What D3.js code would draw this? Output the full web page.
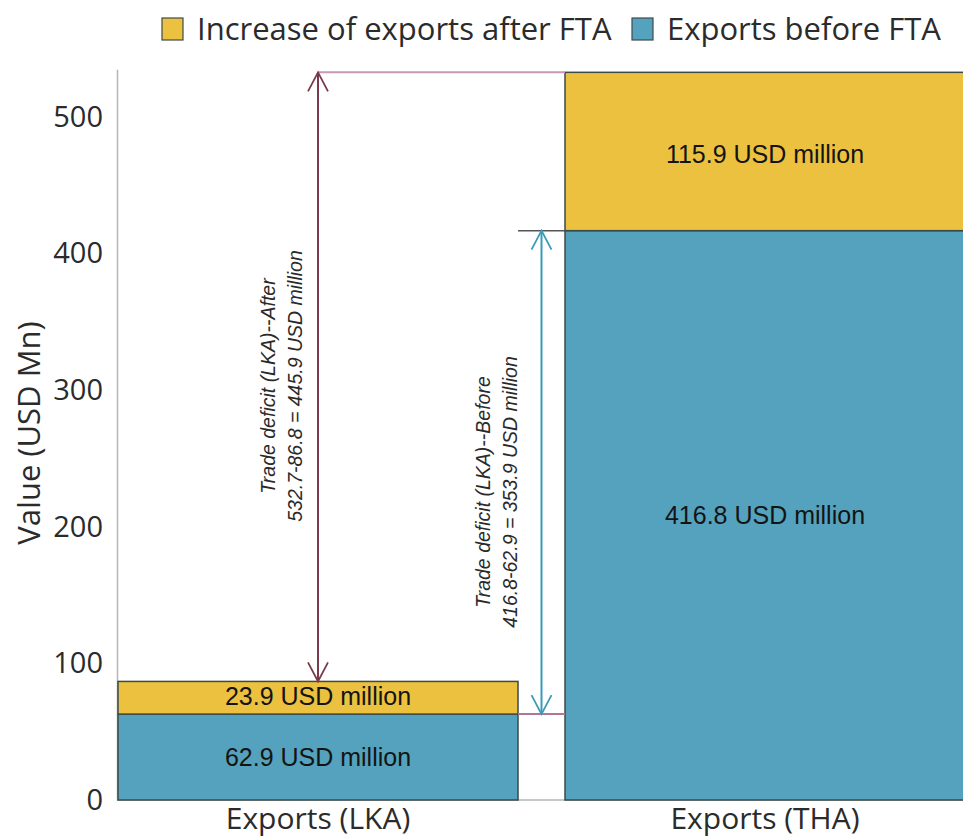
<!DOCTYPE html>
<html>
<head>
<meta charset="utf-8">
<script src="https://cdn.jsdelivr.net/npm/d3@7"></script>
<style>
  html, body { margin: 0; padding: 0; background: #fff; }
  svg { display: block; }
</style>
</head>
<body>
<svg id="chart" width="963" height="838"></svg>
<script>
// ---- data ----
const categories = ["Exports (LKA)", "Exports (THA)"];
const seriesNames = ["Increase of exports after FTA", "Exports before FTA"];
const beforeValues = [62.9, 416.8];
const increaseValues = [23.9, 115.9];
const yTicks = [0, 100, 200, 300, 400, 500];
const yAxisTitle = "Value (USD Mn)";
const unitLabel = "USD million";

// ---- styles ----
const colors = { increase: "#EBC13F", before: "#54A2BD" };
const uiFont = "'Open Sans', 'Noto Sans', sans-serif";
const labelFont = "'Liberation Sans', Arial, sans-serif";

const svg = d3.select("#chart");

const y = d3.scaleLinear().domain([0, 535]).range([800, 800 - 535 * 1.366]);
const x = d3.scaleBand().domain(categories).range([118, 965]).paddingInner(47 / 447).paddingOuter(0);

const totals = beforeValues.map((v, i) => +(v + increaseValues[i]).toFixed(1));

// ---- y axis ----
const yAxis = svg.append("g").attr("transform", "translate(117,0)")
  .call(d3.axisLeft(y).tickValues(yTicks).tickSize(0).tickPadding(14).tickFormat(d3.format("d")));
yAxis.select(".domain").attr("stroke", "#b5b5b5").attr("stroke-width", 1.5);
yAxis.selectAll("text").attr("font-family", uiFont).attr("font-size", 29).attr("fill", "#2b2b2b");

svg.append("text")
  .attr("transform", `translate(40,433) rotate(-90)`)
  .attr("text-anchor", "middle")
  .attr("font-family", uiFont).attr("font-size", 31).attr("fill", "#2b2b2b")
  .text(yAxisTitle);

// ---- x baseline ----
svg.append("line").attr("x1", 117).attr("x2", 963).attr("y1", y(0)).attr("y2", y(0))
  .attr("stroke", "#b5b5b5").attr("stroke-width", 1.5);

// ---- bars ----
const barStroke = "#3b4a4a";
const gBars = svg.append("g");
gBars.selectAll("rect.before").data(categories).join("rect")
  .attr("class", "before")
  .attr("x", d => x(d)).attr("width", x.bandwidth())
  .attr("y", (d, i) => y(beforeValues[i])).attr("height", (d, i) => y(0) - y(beforeValues[i]))
  .attr("fill", colors.before).attr("stroke", barStroke).attr("stroke-width", 1.5);
gBars.selectAll("rect.inc").data(categories).join("rect")
  .attr("class", "inc")
  .attr("x", d => x(d)).attr("width", x.bandwidth())
  .attr("y", (d, i) => y(totals[i])).attr("height", (d, i) => y(beforeValues[i]) - y(totals[i]))
  .attr("fill", colors.increase).attr("stroke", barStroke).attr("stroke-width", 1.5);

// bar value labels
const lbl = svg.append("g").attr("font-family", labelFont).attr("font-size", 25)
  .attr("fill", "#141414").attr("text-anchor", "middle");
categories.forEach((c, i) => {
  lbl.append("text").attr("x", x(c) + x.bandwidth() / 2)
    .attr("y", (y(0) + y(beforeValues[i])) / 2).attr("dy", "0.35em")
    .text(`${beforeValues[i]} ${unitLabel}`);
  lbl.append("text").attr("x", x(c) + x.bandwidth() / 2)
    .attr("y", (y(beforeValues[i]) + y(totals[i])) / 2).attr("dy", i === 0 ? "0.28em" : "0.45em")
    .text(`${increaseValues[i]} ${unitLabel}`);
});

// x labels
svg.append("g").selectAll("text").data(categories).join("text")
  .attr("x", d => x(d) + x.bandwidth() / 2).attr("y", 829)
  .attr("text-anchor", "middle")
  .attr("font-family", uiFont).attr("font-size", 30).attr("fill", "#2b2b2b")
  .text(d => d);

// ---- annotations ----
const defs = svg.append("defs");
function marker(id, color) {
  defs.append("marker").attr("id", id)
    .attr("viewBox", "-1 -12 22 24").attr("refX", 19).attr("refY", 0)
    .attr("markerWidth", 22).attr("markerHeight", 24)
    .attr("markerUnits", "userSpaceOnUse").attr("orient", "auto-start-reverse")
    .append("path").attr("d", "M0,-10 L19,0 L0,10")
    .attr("fill", "none").attr("stroke", color).attr("stroke-width", 1.8);
}
const afterColor = "#7a3a4c", beforeColor = "#3a9bb9";
marker("arrA", afterColor);
marker("arrB", beforeColor);

const xLKAc = x(categories[0]) + x.bandwidth() / 2;
const xTHA = x(categories[1]);
const xGapC = x(categories[0]) + x.bandwidth() + (xTHA - x(categories[0]) - x.bandwidth()) / 2;

// guide lines
svg.append("line").attr("x1", xLKAc).attr("x2", xTHA).attr("y1", y(totals[1])).attr("y2", y(totals[1]))
  .attr("stroke", "#c69ab6").attr("stroke-width", 2);
svg.append("line").attr("x1", x(categories[0]) + x.bandwidth()).attr("x2", xTHA)
  .attr("y1", y(beforeValues[1])).attr("y2", y(beforeValues[1]))
  .attr("stroke", "#555").attr("stroke-width", 1.5);
svg.append("line").attr("x1", x(categories[0]) + x.bandwidth()).attr("x2", xTHA)
  .attr("y1", y(beforeValues[0])).attr("y2", y(beforeValues[0]))
  .attr("stroke", "#b27594").attr("stroke-width", 2);

// arrows
svg.append("line").attr("x1", xLKAc).attr("x2", xLKAc)
  .attr("y1", y(totals[1])).attr("y2", y(totals[0]))
  .attr("stroke", afterColor).attr("stroke-width", 2)
  .attr("marker-start", "url(#arrA)").attr("marker-end", "url(#arrA)");
svg.append("line").attr("x1", xGapC).attr("x2", xGapC)
  .attr("y1", y(beforeValues[1])).attr("y2", y(beforeValues[0]))
  .attr("stroke", beforeColor).attr("stroke-width", 2)
  .attr("marker-start", "url(#arrB)").attr("marker-end", "url(#arrB)");

// rotated annotation text
function annot(cx, cy, lines) {
  const t = svg.append("text")
    .attr("transform", `translate(${cx},${cy}) rotate(-90)`)
    .attr("text-anchor", "middle").attr("font-family", labelFont)
    .attr("font-style", "italic").attr("font-size", 19.5).attr("fill", "#2a2a2a");
  lines.forEach((l, i) => t.append("tspan").attr("x", 0).attr("y", i * 27).text(l));
}
const defAfter = (totals[1] - totals[0]).toFixed(1);
const defBefore = (beforeValues[1] - beforeValues[0]).toFixed(1);
annot(275, 386, ["Trade deficit (LKA)--After", `${totals[1]}-${totals[0]} = ${defAfter} ${unitLabel}`]);
annot(490, 492, ["Trade deficit (LKA)--Before", `${beforeValues[1]}-${beforeValues[0]} = ${defBefore} ${unitLabel}`]);

// ---- legend ----
const legend = svg.append("g");
const legendItems = [
  { name: seriesNames[0], color: colors.increase, x: 162 },
  { name: seriesNames[1], color: colors.before, x: 632 }
];
legendItems.forEach(it => {
  legend.append("rect").attr("x", it.x).attr("y", 18).attr("width", 21).attr("height", 22)
    .attr("fill", it.color).attr("stroke", "#3f4a4a").attr("stroke-width", 1.2);
  legend.append("text").attr("x", it.x + 35).attr("y", 40)
    .attr("font-family", uiFont).attr("font-size", 31).attr("fill", "#2b2b2b")
    .text(it.name);
});
</script>
</body>
</html>
